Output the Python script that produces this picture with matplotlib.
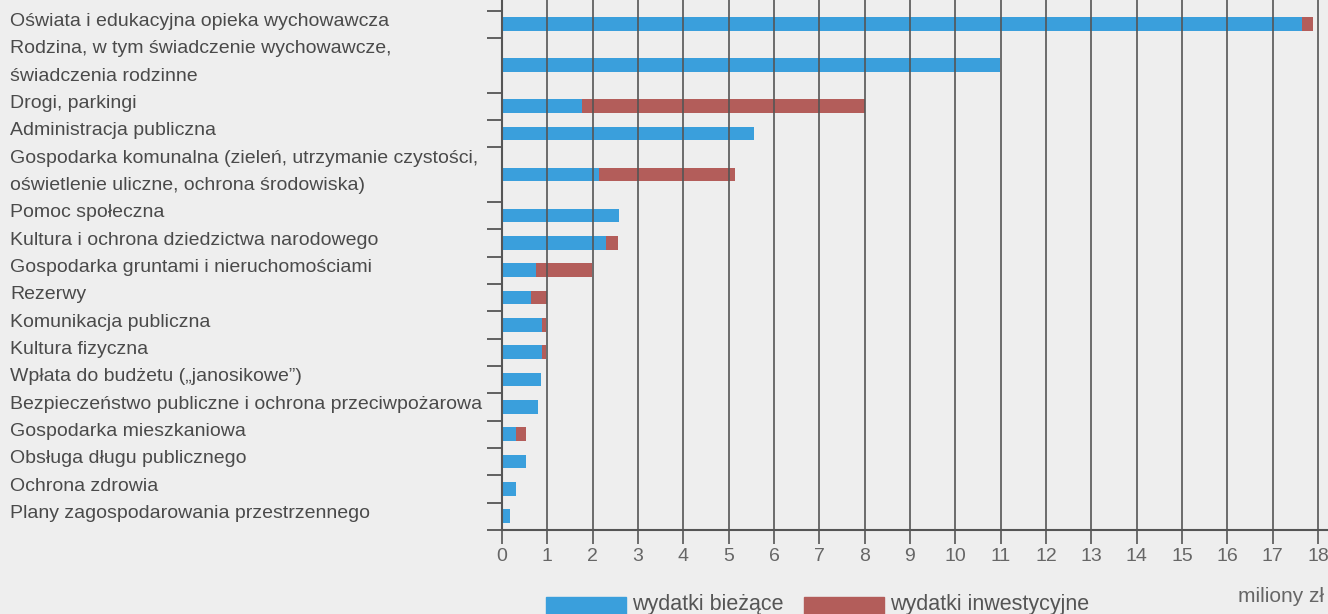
import matplotlib
matplotlib.use('Agg')
import matplotlib.pyplot as plt
from matplotlib.transforms import blended_transform_factory
from matplotlib.patches import Rectangle
import numpy as np

# categories (multi-line labels split on \n), values in milions zl
categories = [
    "Oświata i edukacyjna opieka wychowawcza",
    "Rodzina, w tym świadczenie wychowawcze,\nświadczenia rodzinne",
    "Drogi, parkingi",
    "Administracja publiczna",
    "Gospodarka komunalna (zieleń, utrzymanie czystości,\noświetlenie uliczne, ochrona środowiska)",
    "Pomoc społeczna",
    "Kultura i ochrona dziedzictwa narodowego",
    "Gospodarka gruntami i nieruchomościami",
    "Rezerwy",
    "Komunikacja publiczna",
    "Kultura fizyczna",
    "Wpłata do budżetu („janosikowe”)",
    "Bezpieczeństwo publiczne i ochrona przeciwpożarowa",
    "Gospodarka mieszkaniowa",
    "Obsługa długu publicznego",
    "Ochrona zdrowia",
    "Plany zagospodarowania przestrzennego",
]
biezace = [17.65, 10.98, 1.76, 5.57, 2.13, 2.59, 2.29, 0.74, 0.63, 0.89, 0.89,
           0.86, 0.79, 0.30, 0.52, 0.31, 0.18]
inwestycyjne = [0.25, 0.0, 6.24, 0.0, 3.02, 0.0, 0.27, 1.24, 0.37, 0.07, 0.07,
                0.0, 0.0, 0.22, 0.0, 0.0, 0.0]
xticks = list(range(0, 19))
legend_labels = ["wydatki bieżące", "wydatki inwestycyjne"]
unit_label = "miliony zł"

BLUE = '#3a9fdc'
RED = '#b35d5a'
BG = '#eeeeee'
LINE = '#555555'
SANS = ['Liberation Sans', 'DejaVu Sans']

# each label line takes one row; a category sits in the middle of its rows
nlines = [len(c.split('\n')) for c in categories]
starts = np.concatenate([[0], np.cumsum(nlines)[:-1]])
ypos = starts + (np.array(nlines) - 1) / 2.0
bounds = np.concatenate([[-0.5], starts + np.array(nlines) - 0.5])

W, H = 1328, 614
fig = plt.figure(figsize=(W / 100, H / 100), dpi=100, facecolor=BG)
ax = fig.add_axes([502 / W, (H - 530) / H, 1 - 502 / W, 530 / H])
ax.set_facecolor(BG)

ax.barh(ypos, biezace, height=0.5, color=BLUE, zorder=1)
ax.barh(ypos, inwestycyjne, left=biezace, height=0.5, color=RED, zorder=1)

ax.set_xlim(0, (W - 502) / 45.33)
ax.set_ylim(18.5, -0.887)
ax.set_xticks(xticks)
ax.set_xticklabels([str(t) for t in xticks], fontfamily=SANS)
ax.set_yticks(bounds)
ax.set_yticklabels([])
ax.grid(axis='x', color=LINE, lw=1.2)
ax.set_axisbelow(False)
ax.tick_params(axis='x', direction='out', length=10, width=1.2, color=LINE,
               labelsize=14, labelcolor='#666666', pad=3)
ax.tick_params(axis='y', direction='out', length=11, width=1.3, color=LINE)
for s in ['top', 'right']:
    ax.spines[s].set_visible(False)
for s in ['left', 'bottom']:
    ax.spines[s].set_color(LINE)
    ax.spines[s].set_linewidth(1.5)

# left-aligned category labels, one text per line
tr = blended_transform_factory(fig.transFigure, ax.transData)
for c, st in zip(categories, starts):
    for i, line in enumerate(c.split('\n')):
        ax.text(10 / W, st + i - 0.1, line, transform=tr, ha='left', va='center',
                fontsize=14, color='#4a4a4a', family=SANS)

fig.text(1324 / W, (H - 596) / H, unit_label, ha='right', va='center',
         fontsize=15, color='#666666', family=SANS)

# legend at the bottom
for x0, col, lab in [(546, BLUE, legend_labels[0]), (804, RED, legend_labels[1])]:
    fig.patches.append(Rectangle((x0 / W, -0.01), 80 / W, (H - 597) / H + 0.01,
                                 transform=fig.transFigure, color=col))
    fig.text((x0 + 86) / W, 4 / H, lab, ha='left', va='baseline',
             fontsize=15.5, color='#555555', family=SANS)

fig.savefig('out.png', dpi=100, facecolor=BG)
